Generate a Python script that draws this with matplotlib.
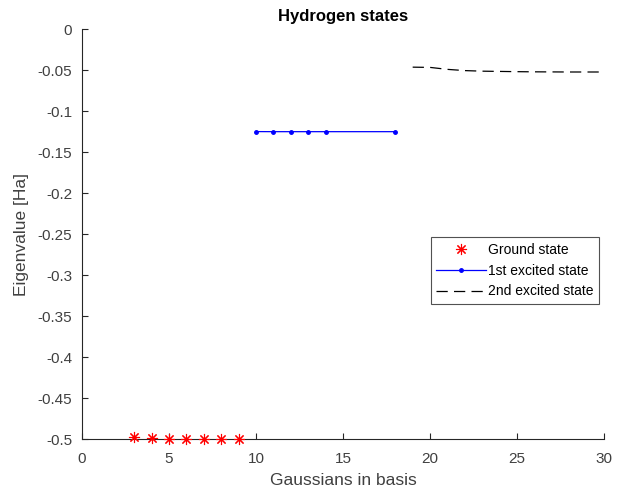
import matplotlib
matplotlib.use("Agg")
import matplotlib.pyplot as plt

plt.rcParams["font.family"] = ["Liberation Sans", "DejaVu Sans"]
plt.rcParams["axes.unicode_minus"] = False

# Data
n_ground = [3, 4, 5, 6, 7, 8, 9]
e_ground = [-0.4970, -0.4993, -0.4998, -0.4999, -0.5000, -0.5000, -0.5000]

n_first = [10, 11, 12, 13, 14, 18]
e_first = [-0.1249, -0.1250, -0.1250, -0.1250, -0.1250, -0.1250]

n_second = [19, 20, 21, 22, 23, 24, 25, 26, 27, 28, 29, 30]
e_second = [-0.0463, -0.0466, -0.0490, -0.0505, -0.0512, -0.0515,
            -0.0518, -0.0520, -0.0521, -0.0522, -0.0522, -0.0522]

xticks = [0, 5, 10, 15, 20, 25, 30]
yticks = [0, -0.05, -0.1, -0.15, -0.2, -0.25, -0.3, -0.35, -0.4, -0.45, -0.5]
ytick_labels = ["0", "-0.05", "-0.1", "-0.15", "-0.2", "-0.25", "-0.3",
                "-0.35", "-0.4", "-0.45", "-0.5"]

fig = plt.figure(figsize=(6.3, 4.95), dpi=100)
ax = fig.add_axes([0.130, 0.113, 0.829, 0.828])

axis_grey = (0.15, 0.15, 0.15)
text_grey = (0.25, 0.25, 0.25)

ax.plot(n_ground, e_ground, linestyle="none", marker=(8, 2, 0),
        markersize=8, markeredgewidth=0.8, color="red", label="Ground state",
        clip_on=False, zorder=3)
ax.plot(n_first, e_first, "-", marker=".", markersize=5, color="blue",
        linewidth=0.9, label="1st excited state")
ax.plot(n_second, e_second, color="black", linewidth=0.9,
        dashes=(9, 5), label="2nd excited state")

ax.set_xlim(0, 30)
ax.set_ylim(-0.5, 0)
ax.set_xticks(xticks)
ax.set_yticks(yticks)
ax.set_yticklabels(ytick_labels)

for side in ["top", "right"]:
    ax.spines[side].set_visible(False)
for side in ["left", "bottom"]:
    ax.spines[side].set_color(axis_grey)
    ax.spines[side].set_linewidth(0.8)
ax.tick_params(direction="in", length=4, width=0.8, colors=axis_grey,
               labelcolor=text_grey, labelsize=11)
ax.tick_params(axis="x", pad=9)
ax.tick_params(axis="y", pad=7)

ax.set_xlabel("Gaussians in basis", fontsize=12.5, color=text_grey,
              labelpad=5)
ax.set_ylabel("Eigenvalue [Ha]", fontsize=12.5, color=text_grey,
              labelpad=6)
ax.set_title("Hydrogen states", fontsize=12, fontweight="bold", pad=6)

leg = ax.legend(loc="upper left", bbox_to_anchor=(0.668, 0.493),
                fontsize=10, frameon=True, fancybox=False,
                handlelength=3.6, handletextpad=0.15, borderpad=0.4,
                labelspacing=0.5, borderaxespad=0)
leg.get_frame().set_edgecolor(axis_grey)
leg.get_frame().set_linewidth(0.8)

fig.savefig("out.png", dpi=100)
